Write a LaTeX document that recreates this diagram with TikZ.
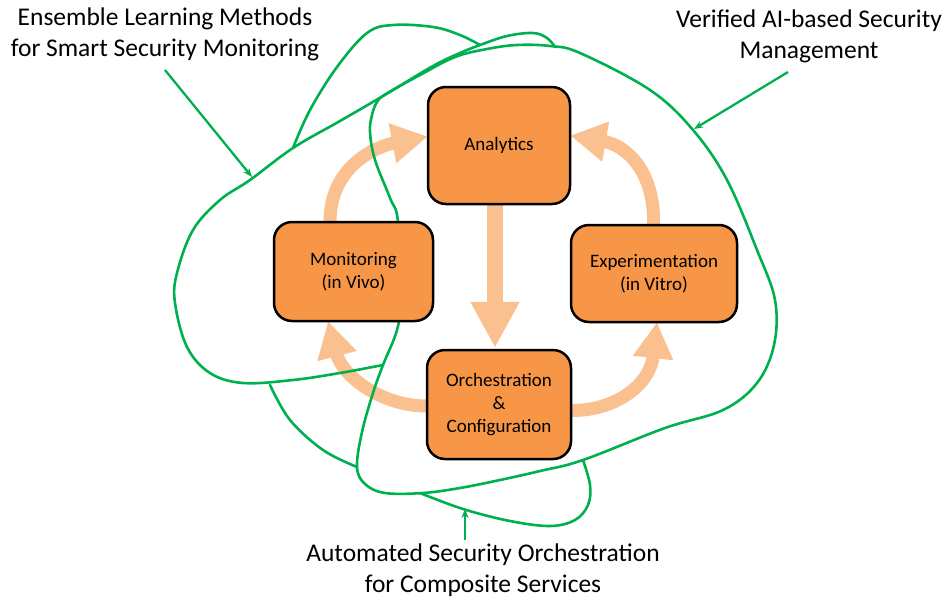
\documentclass[tikz,border=0pt]{standalone}
\usepackage{fontspec}
\setmainfont{Carlito}
\usetikzlibrary{arrows.meta,calc}
\definecolor{grn}{HTML}{00B050}
\definecolor{boxor}{HTML}{F79646}
\definecolor{peach}{HTML}{FAC090}
\begin{document}
\begin{tikzpicture}[x=1pt,y=-1pt,
  stagebox/.style={draw=black, line width=2.5pt, fill=boxor, rounded corners=18pt, align=center, font=\fontsize{19}{23}\selectfont, inner sep=0pt},
  flow/.style={draw=peach, line width=13pt, -{Triangle[length=36pt,width=38pt]}},
  ring/.style={draw=grn, line width=2.6pt, line cap=round, line join=round},
  pointer/.style={draw=grn, line width=2.3pt, -{Stealth[length=9pt,width=7pt]}},
  lab/.style={align=center, font=\fontsize{25.5}{31}\selectfont, inner sep=0pt}]
\useasboundingbox (0,0) rectangle (945,600);

% labels
\node[lab] (ens) at (165,34.5) {Ensemble Learning Methods\\for Smart Security Monitoring};
\node[lab] (ver) at (809,36.5) {Verified AI-based Security\\Management};
\node[lab] (aut) at (483,570) {Automated Security Orchestration\\for Composite Services};

% box placeholders (named; drawn on top later)
\path (499,145.5) node[minimum width=142pt, minimum height=117pt, inner sep=0pt] (ana) {};
\path (353.5,271.5) node[minimum width=159pt, minimum height=99pt, inner sep=0pt] (mon) {};
\path (654,273.5) node[minimum width=166pt, minimum height=97pt, inner sep=0pt] (exp) {};
\path (499,404.5) node[minimum width=144pt, minimum height=109pt, inner sep=0pt] (orc) {};

% peach flow arrows
\draw[flow] ([xshift=-23.5pt]mon.north) .. controls (330,165) and (378,146) .. ([yshift=9pt]ana.west);
\draw[flow] ([xshift=-0.5pt]exp.north) .. controls (655,170) and (625,145) .. ([yshift=10pt]ana.east);
\draw[flow] ([yshift=-1.5pt]orc.west) .. controls (380,406) and (342,375) .. ([xshift=-25.5pt]mon.south);
\draw[flow] ([yshift=-6pt]orc.east) .. controls (615,411) and (650,385) .. ([xshift=3pt]exp.south);
\draw[draw=peach, line width=16pt, -{Triangle[length=46pt,width=46pt]}] ([xshift=-4pt]ana.south) -- ([xshift=-4pt,yshift=2pt]orc.north);

% green rings
\draw[ring] plot[smooth cycle, tension=0.6] coordinates {
 (372,115) (377,102) (386,94) (420,75) (455,57) (487,49) (517,45) (550,46) (580,53)
 (650,90) (693,130) (727,180) (757,250) (775,300) (774,345) (757,383) (723,410)
 (665,428) (583,460) (540,471) (500,480) (460,488) (423,493) (385,493) (365,484)
 (357,467) (362,432) (373,393) (383,365) (397,330) (400,300) (398,222) (390,198)
 (375,160) (370,132)};
\draw[ring] plot[smooth, tension=0.6] coordinates {
 (383,365) (340,373) (293,380) (243,383) (210,373) (187,347) (175,303) (177,273)
 (193,230) (220,200) (250,180) (293,148) (340,121) (383,96) (433,66) (460,53)
 (480,45) (507,36) (533,33) (547,38) (555,47)};
\draw[ring] plot[smooth, tension=0.6] coordinates {
 (293,148) (310,110) (337,67) (367,33) (393,25) (433,27) (460,35) (480,45)};
\draw[ring] plot[smooth, tension=0.6] coordinates {
 (270,385) (290,420) (323,450) (357,467)};
\draw[ring] plot[smooth, tension=0.6] coordinates {
 (420,493) (463,509) (510,521) (550,526) (575,520) (588,505) (590,485) (583,460)};

% label pointers
\coordinate (ensTip) at (252,177);
\coordinate (verTip) at (694,129);
\coordinate (autTip) at (465,509);
\draw[pointer] ($(ens.center)+(0,35.5)$) -- (ensTip);
\draw[pointer] ($(ver.center)+(-21,35.5)$) -- (verTip);
\draw[pointer] ($(aut.center)+(-18,-30)$) -- (autTip);

% boxes on top
\node[stagebox, minimum width=142pt, minimum height=117pt] at (ana) {Analytics};
\node[stagebox, minimum width=159pt, minimum height=99pt] at (mon) {Monitoring\\(in Vivo)};
\node[stagebox, minimum width=166pt, minimum height=97pt] at (exp) {Experimentation\\(in Vitro)};
\node[stagebox, minimum width=144pt, minimum height=109pt] at (orc) {Orchestration\\\&\\Configuration};
\end{tikzpicture}
\end{document}
